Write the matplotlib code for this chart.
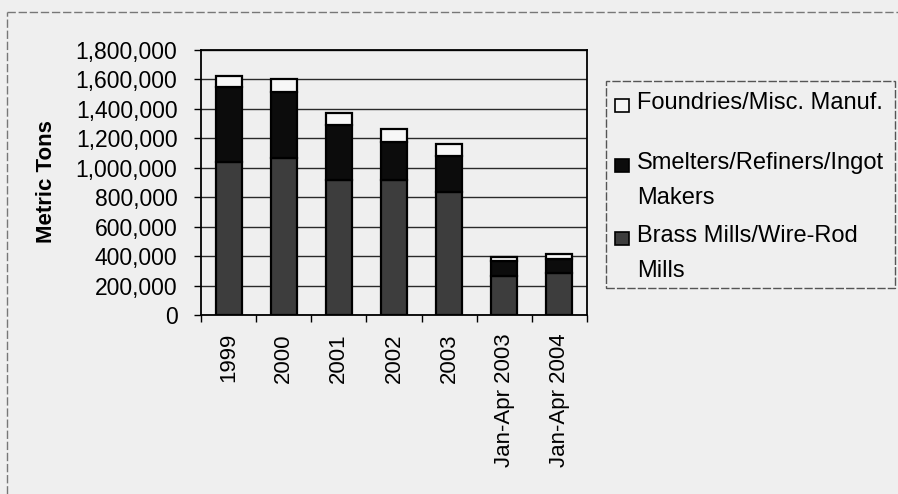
import matplotlib
matplotlib.use("Agg")
import matplotlib.pyplot as plt
from matplotlib.patches import Rectangle
from matplotlib.lines import Line2D
from matplotlib.ticker import FuncFormatter, FixedLocator
import numpy as np

plt.rcParams['font.family'] = ['Liberation Sans', 'DejaVu Sans']

categories = ["1999", "2000", "2001", "2002", "2003", "Jan-Apr 2003", "Jan-Apr 2004"]
brass_mills = [1041000, 1064000, 917000, 917000, 835000, 265000, 283000]
smelters = [510000, 449000, 374000, 260000, 245000, 102000, 97000]
foundries = [75000, 88000, 83000, 84000, 82000, 29000, 34000]
series_names = ["Foundries/Misc. Manuf.", "Smelters/Refiners/Ingot\nMakers", "Brass Mills/Wire-Rod\nMills"]
y_ticks = [0, 200000, 400000, 600000, 800000, 1000000, 1200000, 1400000, 1600000, 1800000]

bg = "#efefef"
c_brass = "#3d3d3d"
c_smelt = "#0c0c0c"
c_found = "#f7f7f7"

W, H = 898, 494
fig = plt.figure(figsize=(W / 100, H / 100), dpi=100, facecolor=bg)
ax = fig.add_axes([201 / W, 1 - 315 / H, (587 - 201) / W, (315 - 50) / H])
ax.set_facecolor(bg)

x = np.arange(len(categories))
bw = 0.47
b1 = np.array(brass_mills)
b2 = np.array(smelters)
b3 = np.array(foundries)
ax.bar(x, b1, bw, color=c_brass, edgecolor="black", linewidth=1.6, zorder=3)
ax.bar(x, b2, bw, bottom=b1, color=c_smelt, edgecolor="black", linewidth=1.6, zorder=3)
ax.bar(x, b3, bw, bottom=b1 + b2, color=c_found, edgecolor="black", linewidth=1.6, zorder=3)

ax.set_xlim(-0.5, len(categories) - 0.5)
ax.set_ylim(0, 1800000)
ax.set_yticks(y_ticks)
ax.yaxis.set_major_formatter(FuncFormatter(lambda v, p: f"{int(v):,}"))
ax.grid(axis="y", color="#2a2a2a", linewidth=1.0, zorder=1)
for s in ax.spines.values():
    s.set_color("black")
    s.set_linewidth(1.3)

ax.set_xticks(x)
ax.set_xticklabels(categories, rotation=90, fontsize=16)
ax.xaxis.set_minor_locator(FixedLocator(np.arange(-0.5, len(categories), 1.0)))
ax.tick_params(axis="x", which="major", length=0, pad=13)
ax.tick_params(axis="x", which="minor", length=5, width=1, direction="out")
ax.tick_params(axis="y", length=5, width=1, direction="out", pad=12, labelsize=16.5)

fig.text(47 / W, 1 - 182 / H, "Metric Tons", rotation=90, ha="center", va="center",
         fontsize=16, fontweight="bold")

# legend box
lx0, ly0, lx1, ly1 = 606, 81, 895, 288
fig.add_artist(Rectangle((lx0 / W, 1 - ly1 / H), (lx1 - lx0) / W, (ly1 - ly0) / H,
                         transform=fig.transFigure, facecolor=bg, edgecolor="#555555",
                         linewidth=1.0, linestyle=(0, (6, 1.5))))
leg_colors = [c_found, c_smelt, c_brass]
leg_text_top = [92, 152, 225]
for name, col, ty in zip(series_names, leg_colors, leg_text_top):
    fig.add_artist(Rectangle((615 / W, 1 - (ty + 20) / H), 14 / W, 13 / H,
                             transform=fig.transFigure, facecolor=col,
                             edgecolor="black", linewidth=1.2))
    fig.text(637 / W, 1 - ty / H, name, ha="left", va="top", fontsize=17,
             linespacing=1.75)

# outer dashed frame
fig.add_artist(Line2D([7 / W, 7 / W], [0, 1 - 12 / H], transform=fig.transFigure,
                      color="#777777", linewidth=1.0, linestyle=(0, (6, 2))))
fig.add_artist(Line2D([7 / W, 1], [1 - 12 / H, 1 - 12 / H], transform=fig.transFigure,
                      color="#777777", linewidth=1.0, linestyle=(0, (6, 2))))

fig.savefig("out.png", dpi=100, facecolor=bg)
